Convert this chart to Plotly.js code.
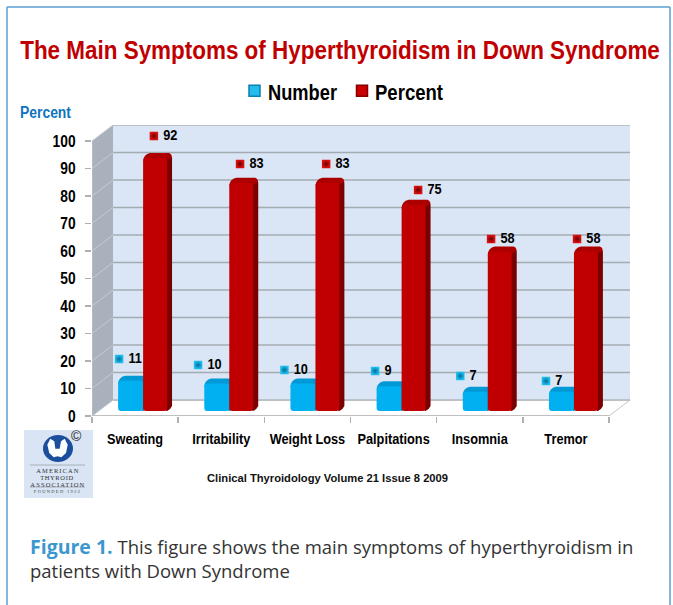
<!DOCTYPE html>
<html><head><meta charset="utf-8">
<script src="https://cdn.plot.ly/plotly-3.0.1.min.js"></script>
<style>html,body{margin:0;padding:0;background:#fff}</style></head>
<body><div id="chart" style="width:673px;height:605px"></div>
<script>
const categories = ["Sweating","Irritability","Weight Loss","Palpitations","Insomnia","Tremor"];
const numberValues = [11,10,10,9,7,7];
const percentValues = [92,83,83,75,58,58];
const yTicks = [0,10,20,30,40,50,60,70,80,90,100];
// where the reference placed its floating value labels, relative to each bar (pixels)
const numberLabelDx = [1,-6.2,-6,-1.5,-2.5,-3];
const numberLabelDy = [21.75,18.5,13.5,15.25,15.75,10.75];
const percentLabelDx = [10.8,10.8,10.7,16.5,3.3,3.1];
const percentLabelDy = [22,18.75,18.75,14.75,12.5,12.5];

const L=92,R=630,T=125,B=416,UX=86.17,UY=2.75;
const dx=p=>p/UX, dy=p=>p/UY;
const fx=p=>(p-L)/UX-0.5, fy=p=>(B-p)/UY;          // pixel -> data, for wall scenery
const px=p=>(p-L)/(R-L), py=p=>1-(p-T)/(B-T);      // pixel -> paper
const BASE=dy(5), DX=5, DY=5;
const WX=21, WY=16;
const shapes=[];
function poly(pts,fill,line,w,ref){
  const d=pts.map((q,i)=>(i?'L':'M')+(ref?px(q[0]):fx(q[0]))+','+(ref?py(q[1]):fy(q[1]))).join(' ')+' Z';
  shapes.push({type:'path',path:d,xref:ref?'paper':'x2',yref:ref?'paper':'y',fillcolor:fill,layer:'below',line:{color:line||'rgba(0,0,0,0)',width:w||0}});
}
function seg(x0,y0,x1,y1,c,w){
  shapes.push({type:'line',xref:'x2',yref:'y',x0:fx(x0),y0:fy(y0),x1:fx(x1),y1:fy(y1),layer:'below',line:{color:c,width:w}});
}
// floor, back wall, side wall
poly([[L,B],[L+WX,B-WY],[R,B-WY],[R-WX,B]],'#ffffff','#c4c4c4',1);
poly([[L+WX,T],[R,T],[R,B-WY],[L+WX,B-WY]],'#dae6f5');
poly([[L,T+WY],[L+WX,T],[L+WX,B-WY],[L,B]],'#a9b2bc');
yTicks.forEach(v=>{
  const fy0=B-v*UY, by=fy0-WY;
  if(v>0) seg(L+WX,by,R,by,v===100?'#b9bfc4':'#a4abb2',v===100?2:1.5);
  seg(L,fy0,L+WX,by,'#c6cbd0',1);
});
seg(L,B,R-WX,B,'#b5b5b5',1.5);
seg(L+WX,B-WY,R,B-WY,'#b0b6bc',1.5);
seg(L,B,L,T+WY,'#c0c4c8',1);
// bar depth faces
const BW=[-0.197,0.29], RW=[0.093,0.278];
function depth(i,v,g,side,cap){
  const cx=L+UX*(i+0.5);
  const x0=cx+g[0]*UX, x1=x0+g[1]*UX;
  const yb=B-5, yt=yb-v*UY;
  poly([[x1-1,yt+1],[x1+DX-1,yt-DY+3],[x1+DX,yt-DY+5],[x1+DX,yb-DY],[x1+DX-2,yb-DY+3],[x1,yb],[x1-1,yb]],side);
  poly([[x0,yt+3],[x0+0.6,yt],[x0+2,yt-2.2],[x0+4,yt-3.9],[x0+7,yt-DY],[x1+DX-3,yt-DY],[x1+DX-1,yt-DY+1.2],[x1+DX,yt-DY+4],[x1,yt+2],[x0+1,yt+3]],cap);
}
numberValues.forEach((v,i)=>depth(i,v,BW,'#0086ba','#0099d6'));
percentValues.forEach((v,i)=>depth(i,v,RW,'#7a0000','#ac0000'));
// logo
poly([[24,430],[93,430],[93,498],[24,498]],'#d9e5f5',null,0,true);
shapes.push({type:'circle',xref:'paper',yref:'paper',x0:px(43),x1:px(73),y0:py(462),y1:py(435),fillcolor:'#1b4f9e',line:{width:0},layer:'below'});
shapes.push({type:'path',xref:'paper',yref:'paper',layer:'below',fillcolor:'#ffffff',line:{width:0},
 path:[[50.3,438.7],[54.3,441.3],[55.3,448.7],[59.7,448.7],[61,441.3],[64.7,438.7],[67.7,444.7],[66,453],[61.3,457.3],[57.7,456.3],[53.7,457.3],[49.3,453],[47.3,444.7]].map((q,i)=>(i?'L':'M')+px(q[0])+','+py(q[1])).join(' ')+' Z'});
[[30,465,85,465],[30,487,85,487]].forEach(a=>shapes.push({type:'line',xref:'paper',yref:'paper',x0:px(a[0]),y0:py(a[1]),x1:px(a[2]),y1:py(a[3]),line:{color:'#a8aeb6',width:1},layer:'below'}));
// figure frame
[[7,605,7,7],[7,7,670,7],[670,7,670,605]].forEach(a=>shapes.push({type:'line',xref:'paper',yref:'paper',x0:px(a[0]),y0:py(a[1]),x1:px(a[2]),y1:py(a[3]),line:{color:'#5b9fd0',width:1.5},layer:'below'}));

const FONT='"Liberation Sans",Arial,sans-serif';
const note=(text,xp,yp,size,color,anchor,family,weight)=>({text,xref:'paper',yref:'paper',x:px(xp),y:py(yp),xanchor:anchor||'left',yanchor:'middle',align:anchor==='center'?'center':'left',showarrow:false,font:{size,color:color||'#000',family:family||FONT,weight:weight||'normal'},borderpad:0});
const CAP='"Open Sans",sans-serif', SER='"Liberation Serif",serif';
const annotations=[
 note('Percent',19,113,16,'#0f74c0','left',FONT,'bold'),
 note('Clinical Thyroidology Volume 21 Issue 8 2009',206,478,11.2,'#111','left',FONT,'bold'),
 note('<span style="color:#3d97cf;font-size:19.5px"><b>Figure 1.</b></span> This figure shows the main symptoms of hyperthyroidism in<br>patients with Down Syndrome',29,557.5,18.5,'#333','left',CAP),
 note('©',76,436,14,'#222','center',FONT),
 note('AMERICAN',57,470,6.5,'#333','center',SER),
 note('THYROID',57,477,6.5,'#333','center',SER),
 note('ASSOCIATION',57,484,6.5,'#333','center',SER),
 note('FOUNDED 1923',57,491.5,4.5,'#444','center',SER)
];
const barTrace=(name,vals,g,color)=>({type:'bar',name,x:categories,y:vals,base:vals.map(()=>BASE),offset:g[0],width:g[1],marker:{color,line:{width:0}},hoverinfo:'x+y'});
const labelTrace=(vals,g,ldx,ldy,c0,c1)=>({type:'scatter',mode:'markers+text',xaxis:'x2',yaxis:'y',showlegend:false,cliponaxis:false,
 x:vals.map((v,i)=>i+g[0]+dx(ldx[i])),y:vals.map((v,i)=>BASE+v+dy(ldy[i])),text:vals.map(String),textposition:'middle right',
 textfont:{family:FONT,size:15,color:'#000',weight:'bold'},marker:{symbol:'square',size:8.5,color:c0,gradient:{type:'radial',color:c1},line:{width:0}},hoverinfo:'skip'});
const data=[
 barTrace('Number',numberValues,BW,'#00b0f0'),
 barTrace('Percent',percentValues,RW,'#c00000'),
 labelTrace(numberValues,BW,numberLabelDx,numberLabelDy,'#1fc0f0','#006f9c'),
 labelTrace(percentValues,RW,percentLabelDx,percentLabelDy,'#e01010','#6a0000')
];
const layout={
 width:673,height:605,autosize:false,paper_bgcolor:'#fff',plot_bgcolor:'rgba(0,0,0,0)',
 margin:{l:L,r:673-R,t:T,b:605-B,pad:0},barmode:'overlay',barcornerradius:3,showlegend:true,
 title:{text:'The Main Symptoms of Hyperthyroidism in Down Syndrome',x:340/673,xanchor:'center',y:1-50/605,yanchor:'middle',font:{family:FONT,size:26.5,color:'#c00000',weight:'bold'}},
 legend:{orientation:'h',x:px(240),y:py(92),xanchor:'left',yanchor:'middle',font:{family:FONT,size:22,color:'#000',weight:'bold'},bgcolor:'rgba(0,0,0,0)',traceorder:'normal',itemclick:false},
 xaxis:{type:'category',categoryorder:'array',categoryarray:categories,range:[-0.5,-0.5+(R-L)/UX],tickson:'boundaries',ticks:'outside',ticklen:6,tickcolor:'#b0b0b0',tickwidth:1.5,ticklabelstandoff:12,showgrid:false,zeroline:false,showline:false,tickangle:0,tickfont:{family:FONT,size:15,color:'#000',weight:'bold'},automargin:false,fixedrange:true},
 xaxis2:{overlaying:'x',type:'linear',range:[-0.5,-0.5+(R-L)/UX],visible:false,fixedrange:true},
 yaxis:{range:[0,(B-T)/UY],tickvals:yTicks,ticktext:yTicks.map(String),ticks:'outside',ticklen:6,tickcolor:'#b0b0b0',tickwidth:1.5,ticklabelstandoff:6,showgrid:false,zeroline:false,showline:false,tickfont:{family:FONT,size:17,color:'#000',weight:'bold'},automargin:false,fixedrange:true},
 shapes,annotations
};
// The reference's type is a narrow bold face that is not installed: condense the real text.
function condense(el,w,mode){
  el.setAttribute('textLength',w);
  el.setAttribute('lengthAdjust',mode||'spacingAndGlyphs');
}
const ratio=(sel,r)=>document.querySelectorAll(sel).forEach(el=>condense(el,el.getComputedTextLength()*r));
Plotly.newPlot('chart',data,layout,{displayModeBar:false,staticPlot:true}).then(()=>{
  const t=document.querySelector('.gtitle');
  if(t){
    const k=640/t.getComputedTextLength(), cx=parseFloat(t.getAttribute('x'));
    t.setAttribute('transform','translate('+cx+',0) scale('+k+',1) translate('+(-cx)+',0)');
  }
  ratio('.xtick text',0.85);
  ratio('.ytick text',0.81);
  document.querySelectorAll('.textpoint text').forEach(el=>{
    el.setAttribute('x',parseFloat(el.getAttribute('x'))+3);
    condense(el,el.getComputedTextLength()*0.85);
  });
  const widths={'Percent':51,'AMERICAN':42,'THYROID':33,'ASSOCIATION':54,'FOUNDED 1923':46};
  document.querySelectorAll('.annotation-text').forEach(el=>{
    const w=widths[el.textContent]; if(!w) return;
    condense(el,w,el.textContent==='Percent'?'spacingAndGlyphs':'spacing');
  });
  // legend: tight bevelled square swatches as in the reference
  const lg=document.querySelector('.legend');
  const lx=parseFloat(/translate\(([-\d.]+)/.exec(lg.getAttribute('transform'))[1]);
  const spots=[[254.5,268,69,'#0b7fb2','#22bdec'],[362,375,68,'#840000','#cc0000']];
  lg.querySelectorAll('.traces').forEach((tr,i)=>{
    const ty=/,\s*([-\d.]+)\)/.exec(tr.getAttribute('transform'))[1];
    tr.setAttribute('transform','translate('+(spots[i][0]-20-lx)+','+ty+')');
    const txt=tr.querySelector('.legendtext');
    txt.setAttribute('x',20+spots[i][1]-spots[i][0]);
    condense(txt,spots[i][2]);
    tr.querySelectorAll('.legendpoints path').forEach(p=>{
      p.setAttribute('d','M5.5,5.5H-5.5V-5.5H5.5Z');
      p.setAttribute('transform','translate(20,-1)');
      p.style.stroke=spots[i][3]; p.style.strokeWidth='1.5px'; p.style.fill=spots[i][4];
    });
  });
});
</script></body></html>
